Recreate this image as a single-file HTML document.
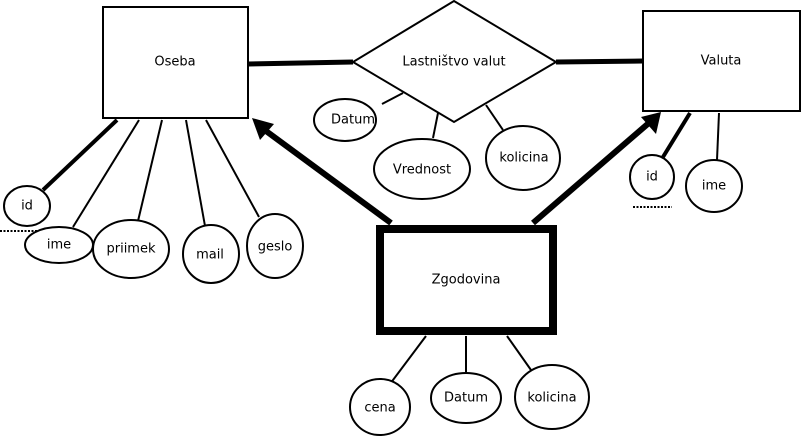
<!DOCTYPE html>
<html><head><meta charset="utf-8"><style>html,body{margin:0;padding:0;background:#fff}svg{display:block}text{font-family:"DejaVu Sans","Liberation Sans",sans-serif;font-size:13px;text-anchor:middle;dominant-baseline:central}</style></head>
<body>
<svg width="803" height="436" viewBox="0 0 803 436" xmlns="http://www.w3.org/2000/svg">
<g fill="#fff" stroke="#000" stroke-width="2">
<rect x="103" y="7" width="145" height="111"/>
<rect x="643" y="11" width="157" height="100"/>
<polygon points="454,1 556,62 454,122 353,62"/>
<rect x="380" y="229" width="173" height="102" stroke-width="8"/>
</g>
<g stroke="#000" fill="none">
<line x1="248" y1="64" x2="353" y2="62" stroke-width="5"/>
<line x1="556" y1="62" x2="643" y2="61" stroke-width="5"/>
<line x1="403" y1="93" x2="382" y2="104" stroke-width="2"/>
<line x1="438" y1="113" x2="433" y2="138" stroke-width="2"/>
<line x1="486" y1="105" x2="503" y2="130" stroke-width="2"/>
<line x1="391" y1="223" x2="266" y2="131" stroke-width="6"/>
<line x1="533" y1="223" x2="650" y2="122" stroke-width="6"/>
<line x1="426" y1="336" x2="390" y2="384" stroke-width="2"/>
<line x1="466" y1="336" x2="466" y2="372" stroke-width="2"/>
<line x1="507" y1="336" x2="531" y2="370" stroke-width="2"/>
<line x1="117" y1="120" x2="43" y2="190" stroke-width="4"/>
<line x1="139" y1="120" x2="73" y2="227" stroke-width="2"/>
<line x1="162" y1="120" x2="138" y2="221" stroke-width="2"/>
<line x1="186" y1="120" x2="205" y2="226" stroke-width="2"/>
<line x1="206" y1="120" x2="259" y2="217" stroke-width="2"/>
<line x1="690" y1="113" x2="663" y2="157" stroke-width="4"/>
<line x1="719" y1="113" x2="717" y2="160" stroke-width="2"/>
<line x1="0" y1="231" x2="43" y2="231" stroke-width="2" stroke-dasharray="2,1.5"/>
<line x1="633" y1="207" x2="672" y2="207" stroke-width="2" stroke-dasharray="2,1.5"/>
</g>
<g fill="#000">
<polygon points="252,118 274,124 260,140"/>
<polygon points="661,112 656,134 641,117"/>
</g>
<g fill="#fff" stroke="#000" stroke-width="2">
<ellipse cx="345" cy="120" rx="31" ry="21"/>
<ellipse cx="422" cy="169" rx="48" ry="30"/>
<ellipse cx="523" cy="158" rx="37" ry="32"/>
<ellipse cx="380" cy="407" rx="30" ry="28"/>
<ellipse cx="466" cy="398" rx="35" ry="25"/>
<ellipse cx="552" cy="397" rx="37" ry="32"/>
<ellipse cx="27" cy="206" rx="23" ry="20"/>
<ellipse cx="59" cy="245" rx="34" ry="18"/>
<ellipse cx="131" cy="249" rx="38" ry="29"/>
<ellipse cx="211" cy="254" rx="28" ry="29"/>
<ellipse cx="275" cy="246" rx="28" ry="32"/>
<ellipse cx="652" cy="177" rx="22" ry="22"/>
<ellipse cx="714" cy="186" rx="28" ry="26"/>
</g>
<g fill="#000">
<text x="175" y="62">Oseba</text>
<text x="721" y="61">Valuta</text>
<text x="454" y="62">Lastništvo valut</text>
<text x="466" y="280">Zgodovina</text>
<text x="353" y="120">Datum</text>
<text x="422" y="170">Vrednost</text>
<text x="524" y="158">kolicina</text>
<text x="380" y="408">cena</text>
<text x="466" y="398">Datum</text>
<text x="552" y="398">kolicina</text>
<text x="27" y="206">id</text>
<text x="59" y="245">ime</text>
<text x="131" y="249">priimek</text>
<text x="210" y="255">mail</text>
<text x="275" y="247">geslo</text>
<text x="652" y="177">id</text>
<text x="714" y="186">ime</text>
</g>
</svg>
</body></html>
